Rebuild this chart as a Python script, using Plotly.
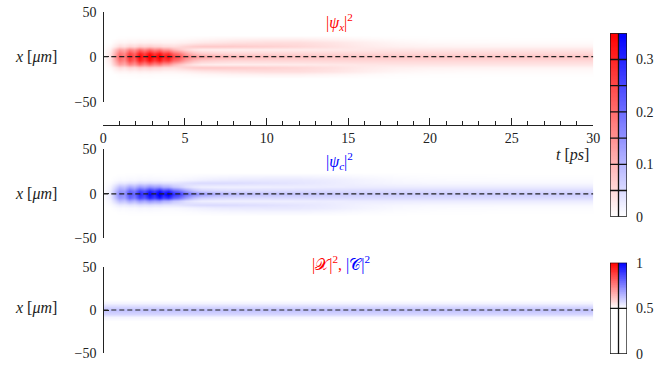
import plotly.graph_objects as go

W, H = 654, 368

# ---------------- data ----------------
t_cols = [0, 0.4, 0.7, 1.0, 1.3, 1.6, 1.9, 2.2, 2.5, 2.8, 3.1, 3.4, 3.7, 4.0, 4.3, 4.6,
          5, 5.5, 6, 7, 8, 10, 12, 14, 16, 18, 20, 25, 30]
x_offsets = [0, 4, 8, 12, 16, 20, 24]   # |x| in um (profiles are mirrored)

psi_x_rows = [
    [0.00, 0.04, 0.12, 0.22, 0.18, 0.29, 0.24, 0.35, 0.29, 0.37, 0.31, 0.37, 0.30, 0.34, 0.26, 0.25,
     0.18, 0.15, 0.13, 0.11, 0.10, 0.09, 0.085, 0.08, 0.08, 0.08, 0.08, 0.08, 0.08],
    [0.00, 0.035, 0.10, 0.19, 0.16, 0.26, 0.21, 0.31, 0.26, 0.33, 0.27, 0.32, 0.26, 0.28, 0.21, 0.19,
     0.13, 0.09, 0.07, 0.06, 0.055, 0.055, 0.055, 0.055, 0.055, 0.055, 0.055, 0.055, 0.055],
    [0.00, 0.02, 0.07, 0.13, 0.11, 0.17, 0.14, 0.20, 0.16, 0.20, 0.16, 0.18, 0.14, 0.14, 0.10, 0.08,
     0.055, 0.035, 0.025, 0.022, 0.022, 0.024, 0.026, 0.03, 0.033, 0.035, 0.035, 0.035, 0.035],
    [0.00, 0.008, 0.025, 0.05, 0.04, 0.06, 0.05, 0.07, 0.06, 0.07, 0.06, 0.06, 0.05, 0.05, 0.045, 0.05,
     0.06, 0.07, 0.075, 0.075, 0.072, 0.065, 0.055, 0.042, 0.028, 0.02, 0.017, 0.015, 0.015],
    [0.00, 0.00, 0.008, 0.015, 0.012, 0.018, 0.015, 0.02, 0.018, 0.02, 0.018, 0.018, 0.015, 0.015, 0.015, 0.018,
     0.02, 0.025, 0.03, 0.035, 0.04, 0.045, 0.045, 0.036, 0.022, 0.012, 0.007, 0.005, 0.005],
    [0.00, 0.00, 0.00, 0.003, 0.003, 0.004, 0.004, 0.005, 0.004, 0.005, 0.004, 0.004, 0.004, 0.004, 0.004, 0.004,
     0.005, 0.007, 0.009, 0.012, 0.015, 0.018, 0.018, 0.013, 0.007, 0.003, 0.002, 0.001, 0.001],
    [0.0] * 29,
]

psi_c_rows = [
    [0.00, 0.03, 0.09, 0.17, 0.15, 0.24, 0.21, 0.30, 0.27, 0.35, 0.30, 0.38, 0.32, 0.37, 0.29, 0.28,
     0.21, 0.17, 0.14, 0.11, 0.095, 0.085, 0.08, 0.075, 0.07, 0.07, 0.07, 0.07, 0.07],
    [0.00, 0.025, 0.075, 0.14, 0.13, 0.21, 0.18, 0.26, 0.23, 0.30, 0.26, 0.32, 0.26, 0.29, 0.22, 0.20,
     0.14, 0.09, 0.065, 0.055, 0.05, 0.05, 0.05, 0.05, 0.05, 0.05, 0.05, 0.05, 0.05],
    [0.00, 0.015, 0.045, 0.09, 0.08, 0.12, 0.10, 0.14, 0.12, 0.15, 0.13, 0.14, 0.11, 0.11, 0.08, 0.07,
     0.045, 0.03, 0.022, 0.02, 0.02, 0.021, 0.023, 0.025, 0.026, 0.026, 0.026, 0.026, 0.026],
    [0.00, 0.005, 0.015, 0.03, 0.027, 0.037, 0.033, 0.045, 0.04, 0.045, 0.04, 0.042, 0.037, 0.037, 0.035, 0.037,
     0.042, 0.047, 0.05, 0.05, 0.048, 0.042, 0.035, 0.026, 0.017, 0.012, 0.01, 0.009, 0.009],
    [0.00, 0.00, 0.004, 0.008, 0.007, 0.01, 0.009, 0.013, 0.011, 0.013, 0.011, 0.011, 0.009, 0.009, 0.009, 0.01,
     0.013, 0.016, 0.02, 0.025, 0.028, 0.03, 0.03, 0.024, 0.015, 0.008, 0.005, 0.004, 0.004],
    [0.00, 0.00, 0.00, 0.002, 0.002, 0.003, 0.003, 0.004, 0.003, 0.004, 0.003, 0.003, 0.003, 0.003, 0.003, 0.003,
     0.004, 0.005, 0.007, 0.009, 0.011, 0.013, 0.013, 0.01, 0.006, 0.003, 0.002, 0.001, 0.001],
    [0.0] * 29,
]

hop_t = [0, 30]
hop_offsets = [0, 4, 8, 12]
hop_rows = [[0.62, 0.62], [0.58, 0.58], [0.52, 0.52], [0.5, 0.5]]

x_ticks = [0, 5, 10, 15, 20, 25, 30]
y_ticks = [-50, 0, 50]
cb1_ticks = [0, 0.1, 0.2, 0.3]
cb1_edges = [0.05, 0.10, 0.15, 0.20, 0.25, 0.30]
cb2_ticks = [0, 0.5, 1]


def mirror(offsets, rows):
    ys = [-o for o in offsets[::-1]] + offsets[1:]
    zs = rows[::-1] + rows[1:]
    return ys, zs


FONT = "'Liberation Serif', 'Times New Roman', 'DejaVu Serif', serif"
fig = go.Figure()

def py(p):  # pixel y -> paper
    return 1 - p / H

def px(p):
    return p / W

XDOM = [px(103.3), px(593.3)]
panels = [(11.7, 101.7), (149.3, 238.3), (266.7, 353.3)]

red_cs = [[0, "white"], [1, "rgb(255,0,0)"]]
blue_cs = [[0, "white"], [1, "rgb(0,0,255)"]]

y1, z1 = mirror(x_offsets, psi_x_rows)
y2, z2 = mirror(x_offsets, psi_c_rows)
y3, z3 = mirror(hop_offsets, hop_rows)

fig.add_trace(go.Heatmap(x=t_cols, y=y1, z=z1, colorscale=red_cs, zmin=0, zmax=0.35,
                         zsmooth="best", showscale=False, xaxis="x", yaxis="y"))
fig.add_trace(go.Heatmap(x=t_cols, y=y2, z=z2, colorscale=blue_cs, zmin=0, zmax=0.35,
                         zsmooth="best", showscale=False, xaxis="x2", yaxis="y2"))
fig.add_trace(go.Heatmap(x=hop_t, y=y3, z=z3, colorscale=blue_cs, zmin=0.5, zmax=1,
                         zsmooth="best", showscale=False, xaxis="x3", yaxis="y3"))

for i, ax in enumerate(["", "2", "3"]):
    fig.add_trace(go.Scatter(x=[0, 30], y=[0, 0], mode="lines",
                             line=dict(color="#222", width=1.2, dash="5px,3px"),
                             xaxis="x" + ax, yaxis="y" + ax, showlegend=False, hoverinfo="skip"))

yax_common = dict(range=[-50, 50], tickvals=y_ticks, ticks="inside", ticklen=5, tickwidth=1,
                  tickcolor="#222", showline=True, linecolor="#222", linewidth=1.2,
                  showgrid=False, zeroline=False, automargin=False,
                  tickfont=dict(family=FONT, size=14, color="#222"),
                  ticklabelstandoff=4)

layout = dict(
    template="none",
    width=W, height=H, margin=dict(l=0, r=0, t=0, b=0, pad=0), autosize=False,
    paper_bgcolor="white", plot_bgcolor="white", showlegend=False,
    xaxis=dict(domain=XDOM, range=[0, 30], anchor="free", position=py(125), automargin=False,
               tickvals=x_ticks, ticks="inside", ticklen=7, tickwidth=1, tickcolor="#222",
               minor=dict(dtick=1, ticks="inside", ticklen=4, tickcolor="#222", tickwidth=1, showgrid=False),
               showline=True, linecolor="#222", linewidth=1.2, showgrid=False, zeroline=False,
               tickfont=dict(family=FONT, size=14, color="#222")),
    xaxis2=dict(domain=XDOM, range=[0, 30], anchor="y2", visible=False, automargin=False),
    xaxis3=dict(domain=XDOM, range=[0, 30], anchor="y3", visible=False, automargin=False),
    yaxis=dict(domain=[py(panels[0][1]), py(panels[0][0])], anchor="free", position=XDOM[0], **yax_common),
    yaxis2=dict(domain=[py(panels[1][1]), py(panels[1][0])], anchor="free", position=XDOM[0], **yax_common),
    yaxis3=dict(domain=[py(panels[2][1]), py(panels[2][0])], anchor="free", position=XDOM[0], **yax_common),
)

# ---------- colorbars as small heatmaps ----------
CBX = [px(610), px(627)]
cb1_levels = [i * 0.35 / 140 for i in range(141)]
cb2_levels = [i / 140 for i in range(141)]
fig.add_trace(go.Heatmap(x=[0, 1], y=cb1_levels, z=[[v, None] for v in cb1_levels],
                         colorscale=red_cs, zmin=0, zmax=0.35, showscale=False,
                         xaxis="x4", yaxis="y4", hoverinfo="skip"))
fig.add_trace(go.Heatmap(x=[0, 1], y=cb1_levels, z=[[None, v] for v in cb1_levels],
                         colorscale=blue_cs, zmin=0, zmax=0.35, showscale=False,
                         xaxis="x4", yaxis="y4", hoverinfo="skip"))
fig.add_trace(go.Heatmap(x=[0, 1], y=cb2_levels, z=[[max(v, 0.5), None] for v in cb2_levels],
                         colorscale=red_cs, zmin=0.5, zmax=1, showscale=False,
                         xaxis="x5", yaxis="y5", hoverinfo="skip"))
fig.add_trace(go.Heatmap(x=[0, 1], y=cb2_levels, z=[[None, max(v, 0.5)] for v in cb2_levels],
                         colorscale=blue_cs, zmin=0.5, zmax=1, showscale=False,
                         xaxis="x5", yaxis="y5", hoverinfo="skip"))

cb_tickfont = dict(family=FONT, size=14, color="#222")
layout.update(
    xaxis4=dict(domain=CBX, range=[-0.5, 1.5], anchor="y4", visible=False, automargin=False),
    yaxis4=dict(domain=[py(216.7), py(33.3)], range=[0, 0.35], anchor="x4", side="right",
                tickvals=cb1_ticks, ticktext=["0", "0.1", "0.2", "0.3"], ticks="",
                showgrid=False, zeroline=False, showline=False, tickfont=cb_tickfont,
                ticklabelstandoff=8, automargin=False),
    xaxis5=dict(domain=CBX, range=[-0.5, 1.5], anchor="y5", visible=False, automargin=False),
    yaxis5=dict(domain=[py(354), py(262.7)], range=[0, 1], anchor="x5", side="right",
                tickvals=cb2_ticks, ticktext=["0", "0.5", "1"], ticks="",
                showgrid=False, zeroline=False, showline=False, tickfont=cb_tickfont,
                ticklabelstandoff=8, automargin=False),
)

shapes = []
lc = dict(color="#111", width=1.3)
for xa, ya, top, edges in [("x4", "y4", 0.35, cb1_edges), ("x5", "y5", 1, [0.5])]:
    shapes.append(dict(type="rect", xref=xa, yref=ya, x0=-0.5, x1=1.5, y0=0, y1=top, line=lc))
    shapes.append(dict(type="line", xref=xa, yref=ya, x0=0.5, x1=0.5, y0=0, y1=top, line=lc))
    for e in edges:
        shapes.append(dict(type="line", xref=xa, yref=ya, x0=-0.5, x1=1.5, y0=e, y1=e, line=lc))
layout["shapes"] = shapes

# ---------- text ----------
ann = []
lab_font = dict(family=FONT, size=16, color="#222")
for yc in [56.7, 194, 308.3]:
    ann.append(dict(text="<i>x</i> [<i>μm</i>]", x=px(36), y=py(yc), xref="paper", yref="paper",
                    showarrow=False, font=lab_font, xanchor="center", yanchor="middle"))
ann.append(dict(text="<i>t</i> [<i>ps</i>]", x=px(572), y=py(155), xref="paper", yref="paper",
                showarrow=False, font=lab_font, xanchor="center", yanchor="middle"))
ann.append(dict(text="|<i>ψ<sub>x</sub></i>|<sup>2</sup>", x=px(340), y=py(22), xref="paper", yref="paper",
                showarrow=False, font=dict(family=FONT, size=16, color="red"), xanchor="center", yanchor="middle"))
ann.append(dict(text="|<i>ψ<sub>c</sub></i>|<sup>2</sup>", x=px(340), y=py(161), xref="paper", yref="paper",
                showarrow=False, font=dict(family=FONT, size=16, color="blue"), xanchor="center", yanchor="middle"))
ann.append(dict(text="<span style='color:red'>|𝒳|<sup>2</sup>,</span> <span style='color:blue'>|𝒞|<sup>2</sup></span>",
                x=px(341), y=py(263), xref="paper", yref="paper",
                showarrow=False, font=dict(family=FONT, size=16, color="red"), xanchor="center", yanchor="middle"))
layout["annotations"] = ann

fig.update_layout(**layout)
fig.write_html("out.html")
